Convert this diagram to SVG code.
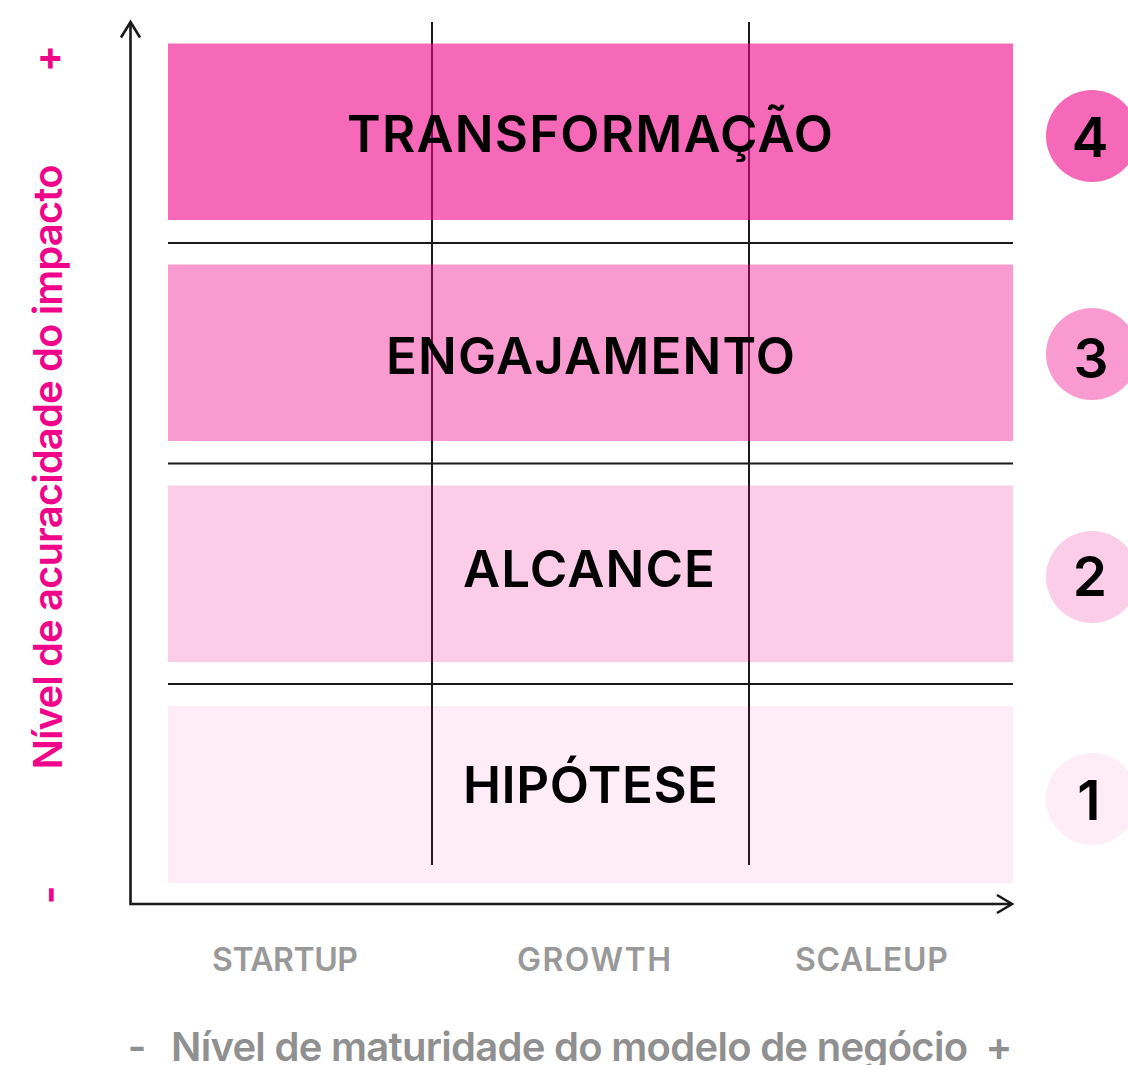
<svg xmlns="http://www.w3.org/2000/svg" width="1128" height="1065" viewBox="0 0 1128 1065">
<style>
.band{fill:#F0058A}
.sep{stroke:#1a1a1a;stroke-width:2}
.vline{stroke:#1a1a1a;stroke-width:2}
.axis{stroke:#1a1a1a;stroke-width:2.6;fill:none}
.title{font-family:Inter,"Liberation Sans",sans-serif;font-weight:600;font-size:51px;fill:#000}
.num{font-family:Inter,"Liberation Sans",sans-serif;font-weight:600;font-size:55px;fill:#000;text-anchor:middle}
.xl{font-family:Inter,"Liberation Sans",sans-serif;font-weight:600;font-size:32px;fill:#999}
.axt{font-family:Inter,"Liberation Sans",sans-serif;font-weight:600;font-size:40px}
.sign{font-family:Inter,"Liberation Sans",sans-serif;font-weight:700;font-size:40px;text-anchor:middle}
</style>
<rect width="1128" height="1065" fill="#fff"/>
<g id="grid-lines">
<line class="vline" x1="432" y1="22" x2="432" y2="865"/>
<line class="vline" x1="749" y1="22" x2="749" y2="865"/>
</g>
<g id="level-4">
<rect class="band" x="168" y="43.5" width="845" height="176.5" fill-opacity="0.6"/>
<text class="title" x="347" y="152" textLength="486" lengthAdjust="spacing">TRANSFORMAÇÃO</text>
<circle class="band" cx="1092" cy="136" r="46" fill-opacity="0.6"/>
<text class="num" x="1090" y="157">4</text>
</g>
<g id="level-3">
<rect class="band" x="168" y="264.5" width="845" height="176.5" fill-opacity="0.4"/>
<text class="title" x="386" y="374" textLength="409" lengthAdjust="spacing">ENGAJAMENTO</text>
<circle class="band" cx="1092" cy="354" r="46" fill-opacity="0.4"/>
<text class="num" x="1091" y="378">3</text>
</g>
<g id="level-2">
<rect class="band" x="168" y="485.5" width="845" height="176.5" fill-opacity="0.2"/>
<text class="title" x="463" y="587" textLength="252" lengthAdjust="spacing">ALCANCE</text>
<circle class="band" cx="1092" cy="577" r="46" fill-opacity="0.2"/>
<text class="num" x="1090" y="596">2</text>
</g>
<g id="level-1">
<rect class="band" x="168" y="706" width="845" height="177" fill-opacity="0.07"/>
<text class="title" x="463" y="803" textLength="255" lengthAdjust="spacing">HIPÓTESE</text>
<circle class="band" cx="1092" cy="799" r="46" fill-opacity="0.07"/>
<text class="num" x="1089" y="820">1</text>
</g>
<g id="separators">
<line class="sep" x1="168" y1="243" x2="1013" y2="243"/>
<line class="sep" x1="168" y1="463.5" x2="1013" y2="463.5"/>
<line class="sep" x1="168" y1="684" x2="1013" y2="684"/>
</g>
<g id="axes">
<polyline class="axis" points="130.5,22 130.5,904 1012,904"/>
<polyline class="axis" points="121,37.5 130.5,22 140,37.5"/>
<polyline class="axis" points="997,895 1012,904 997,913"/>
</g>
<g id="y-axis-title">
<text class="axt" fill="#F0058A" text-anchor="middle" transform="translate(62,467) rotate(-90)" textLength="605" lengthAdjust="spacing">Nível de acuracidade do impacto</text>
<text class="sign" fill="#F0058A" transform="translate(47,58.5) rotate(-90)" dominant-baseline="central">+</text>
<text class="sign" fill="#F0058A" transform="translate(48.5,895) rotate(-90)" dominant-baseline="central">-</text>
</g>
<g id="x-axis-labels">
<text class="xl" x="212" y="971" textLength="146" lengthAdjust="spacing">STARTUP</text>
<text class="xl" x="517" y="971" textLength="154" lengthAdjust="spacing">GROWTH</text>
<text class="xl" x="795" y="971" textLength="153" lengthAdjust="spacing">SCALEUP</text>
</g>
<g id="x-axis-title">
<text class="axt" fill="#909090" x="137" y="1061" text-anchor="middle">-</text>
<text class="axt" fill="#909090" x="171" y="1061" textLength="797" lengthAdjust="spacing">Nível de maturidade do modelo de negócio</text>
<text class="axt" fill="#909090" x="999" y="1061" text-anchor="middle">+</text>
</g>
</svg>
